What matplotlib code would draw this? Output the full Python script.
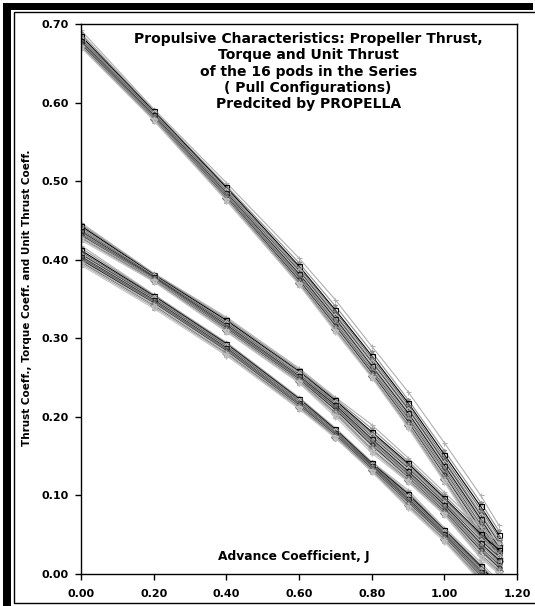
import matplotlib
matplotlib.use('Agg')
import matplotlib.pyplot as plt
from matplotlib.patches import Rectangle

plt.rcParams['font.family'] = ['DejaVu Sans']
plt.rcParams['font.weight'] = 'bold'

# advance coefficient
J = [0.0, 0.2, 0.4, 0.6, 0.7, 0.8, 0.9, 1.0, 1.1, 1.15]

# thrust coefficient, one row per pod
kt = [
    [0.692, 0.592, 0.498, 0.402, 0.349, 0.290, 0.232, 0.167, 0.100, 0.062],
    [0.688, 0.590, 0.494, 0.396, 0.341, 0.283, 0.222, 0.157, 0.091, 0.055],
    [0.685, 0.589, 0.492, 0.392, 0.336, 0.278, 0.218, 0.152, 0.086, 0.050],
    [0.683, 0.588, 0.490, 0.390, 0.334, 0.275, 0.215, 0.148, 0.082, 0.047],
    [0.681, 0.587, 0.489, 0.388, 0.331, 0.272, 0.212, 0.145, 0.078, 0.043],
    [0.680, 0.586, 0.487, 0.386, 0.329, 0.270, 0.210, 0.143, 0.075, 0.040],
    [0.679, 0.585, 0.486, 0.384, 0.327, 0.268, 0.207, 0.140, 0.072, 0.037],
    [0.678, 0.584, 0.485, 0.382, 0.325, 0.265, 0.205, 0.138, 0.070, 0.034],
    [0.677, 0.583, 0.484, 0.380, 0.323, 0.263, 0.202, 0.135, 0.067, 0.031],
    [0.676, 0.582, 0.482, 0.378, 0.320, 0.260, 0.199, 0.132, 0.063, 0.028],
    [0.675, 0.581, 0.481, 0.376, 0.318, 0.258, 0.197, 0.129, 0.060, 0.025],
    [0.674, 0.580, 0.480, 0.374, 0.316, 0.256, 0.194, 0.126, 0.057, 0.022],
    [0.673, 0.580, 0.479, 0.372, 0.314, 0.254, 0.192, 0.124, 0.054, 0.019],
    [0.672, 0.579, 0.478, 0.371, 0.312, 0.252, 0.190, 0.121, 0.051, 0.016],
    [0.671, 0.578, 0.476, 0.369, 0.310, 0.251, 0.188, 0.119, 0.048, 0.013],
    [0.670, 0.577, 0.475, 0.368, 0.308, 0.250, 0.186, 0.117, 0.045, 0.010],
]

# torque coefficient (x10)
kq = [
    [0.447, 0.383, 0.327, 0.262, 0.225, 0.190, 0.148, 0.104, 0.060, 0.040],
    [0.445, 0.382, 0.325, 0.260, 0.223, 0.185, 0.144, 0.100, 0.055, 0.035],
    [0.443, 0.381, 0.323, 0.258, 0.221, 0.181, 0.141, 0.097, 0.051, 0.031],
    [0.441, 0.380, 0.321, 0.257, 0.219, 0.179, 0.139, 0.095, 0.048, 0.028],
    [0.440, 0.380, 0.320, 0.256, 0.218, 0.177, 0.137, 0.093, 0.046, 0.025],
    [0.438, 0.379, 0.319, 0.254, 0.217, 0.175, 0.135, 0.091, 0.043, 0.022],
    [0.437, 0.378, 0.318, 0.253, 0.216, 0.174, 0.133, 0.089, 0.041, 0.020],
    [0.436, 0.378, 0.317, 0.252, 0.215, 0.172, 0.131, 0.088, 0.039, 0.018],
    [0.435, 0.377, 0.316, 0.251, 0.213, 0.170, 0.129, 0.086, 0.037, 0.015],
    [0.433, 0.377, 0.315, 0.250, 0.212, 0.168, 0.127, 0.084, 0.034, 0.012],
    [0.432, 0.376, 0.314, 0.249, 0.210, 0.166, 0.125, 0.082, 0.032, 0.010],
    [0.431, 0.375, 0.313, 0.248, 0.209, 0.164, 0.123, 0.080, 0.030, 0.008],
    [0.430, 0.375, 0.312, 0.247, 0.207, 0.162, 0.122, 0.079, 0.028, 0.006],
    [0.428, 0.374, 0.311, 0.246, 0.205, 0.159, 0.120, 0.078, 0.025, 0.004],
    [0.427, 0.373, 0.309, 0.244, 0.203, 0.157, 0.118, 0.076, 0.022, 0.002],
    [0.425, 0.372, 0.308, 0.243, 0.200, 0.154, 0.117, 0.075, 0.020, 0.000],
]

# unit thrust coefficient
kut = [
    [0.418, 0.356, 0.295, 0.225, 0.186, 0.143, 0.107, 0.059, 0.015, -0.010],
    [0.415, 0.355, 0.294, 0.224, 0.185, 0.142, 0.104, 0.057, 0.012, -0.013],
    [0.412, 0.354, 0.293, 0.223, 0.184, 0.141, 0.102, 0.056, 0.010, -0.015],
    [0.410, 0.353, 0.292, 0.222, 0.183, 0.140, 0.100, 0.055, 0.008, -0.017],
    [0.408, 0.352, 0.291, 0.221, 0.182, 0.139, 0.099, 0.054, 0.006, -0.019],
    [0.407, 0.351, 0.290, 0.220, 0.182, 0.139, 0.098, 0.053, 0.005, -0.021],
    [0.405, 0.350, 0.289, 0.219, 0.181, 0.138, 0.097, 0.052, 0.004, -0.022],
    [0.404, 0.349, 0.288, 0.218, 0.180, 0.138, 0.096, 0.051, 0.003, -0.024],
    [0.403, 0.348, 0.287, 0.218, 0.180, 0.137, 0.095, 0.050, 0.002, -0.025],
    [0.402, 0.347, 0.286, 0.217, 0.179, 0.136, 0.094, 0.049, 0.000, -0.027],
    [0.401, 0.346, 0.285, 0.216, 0.178, 0.135, 0.092, 0.048, -0.001, -0.029],
    [0.400, 0.345, 0.284, 0.215, 0.177, 0.134, 0.091, 0.047, -0.003, -0.031],
    [0.398, 0.344, 0.283, 0.214, 0.176, 0.133, 0.090, 0.046, -0.004, -0.033],
    [0.397, 0.342, 0.281, 0.213, 0.175, 0.132, 0.088, 0.044, -0.006, -0.035],
    [0.395, 0.340, 0.280, 0.211, 0.174, 0.131, 0.086, 0.043, -0.008, -0.037],
    [0.393, 0.338, 0.278, 0.210, 0.173, 0.130, 0.084, 0.041, -0.010, -0.040],
]

pod_colors = ['#b0b0b0', '#909090', '#000000', '#6a6a6a', '#a0a0a0', '#404040',
              '#c0c0c0', '#1a1a1a', '#888888', '#555555', '#989898', '#2a2a2a',
              '#b8b8b8', '#787878', '#a8a8a8', '#c4c4c4']
pod_markers = ['+', '*', 's', '^', 'x', 'o', 'D', 's', '^', 'x', '*', 'o',
               '+', 'D', '^', 'v']

fig = plt.figure(figsize=(5.35, 6.06), dpi=100)
W, H = 535.0, 606.0

# chart-area frame with a heavy shadow on the top/left
fig.patches.append(Rectangle((3 / W, 0), 8 / W, 603 / H, transform=fig.transFigure,
                             facecolor='black', edgecolor='none'))
fig.patches.append(Rectangle((3 / W, 596 / H), 530 / W, 7 / H, transform=fig.transFigure,
                             facecolor='black', edgecolor='none'))
fig.patches.append(Rectangle((14 / W, 3 / H), 540 / W, 591 / H, transform=fig.transFigure,
                             facecolor='none', edgecolor='black', linewidth=1.0))

ax = fig.add_axes([81 / W, 32 / H, 436 / W, 550 / H])

for group in (kt, kq, kut):
    for i, row in enumerate(group):
        mk = pod_markers[i]
        ax.plot(J, row, color=pod_colors[i], linewidth=0.8, marker=mk,
                markersize=3.6, markerfacecolor='none' if mk in 'sDo^v' else pod_colors[i],
                markeredgewidth=0.8, clip_on=True)

ax.set_xlim(0, 1.2)
ax.set_ylim(0, 0.7)
ax.set_xticks([0.0, 0.2, 0.4, 0.6, 0.8, 1.0, 1.2])
ax.set_yticks([0.0, 0.1, 0.2, 0.3, 0.4, 0.5, 0.6, 0.7])
ax.set_xticklabels(['%.2f' % v for v in ax.get_xticks()])
ax.set_yticklabels(['%.2f' % v for v in ax.get_yticks()])
ax.tick_params(direction='out', length=4, width=1, labelsize=8)
ax.tick_params(axis='x', pad=6.5)
ax.tick_params(axis='y', pad=5)
for s in ax.spines.values():
    s.set_linewidth(1.0)

ax.text(0.521, 0.986,
        'Propulsive Characteristics: Propeller Thrust,\nTorque and Unit Thrust\n'
        'of the 16 pods in the Series\n( Pull Configurations)\nPredcited by PROPELLA',
        transform=ax.transAxes, ha='center', va='top', fontsize=10, fontweight='bold',
        linespacing=1.22)
ax.text(0.487, 0.031, 'Advance Coefficient, J', transform=ax.transAxes,
        ha='center', va='center', fontsize=8.8, fontweight='bold')
fig.text(27 / W, 1 - 298 / H, 'Thrust Coeff., Torque Coeff. and Unit Thrust Coeff.',
         rotation=90, ha='center', va='center', fontsize=7.5, fontweight='bold')

fig.savefig('out.png', dpi=100)
